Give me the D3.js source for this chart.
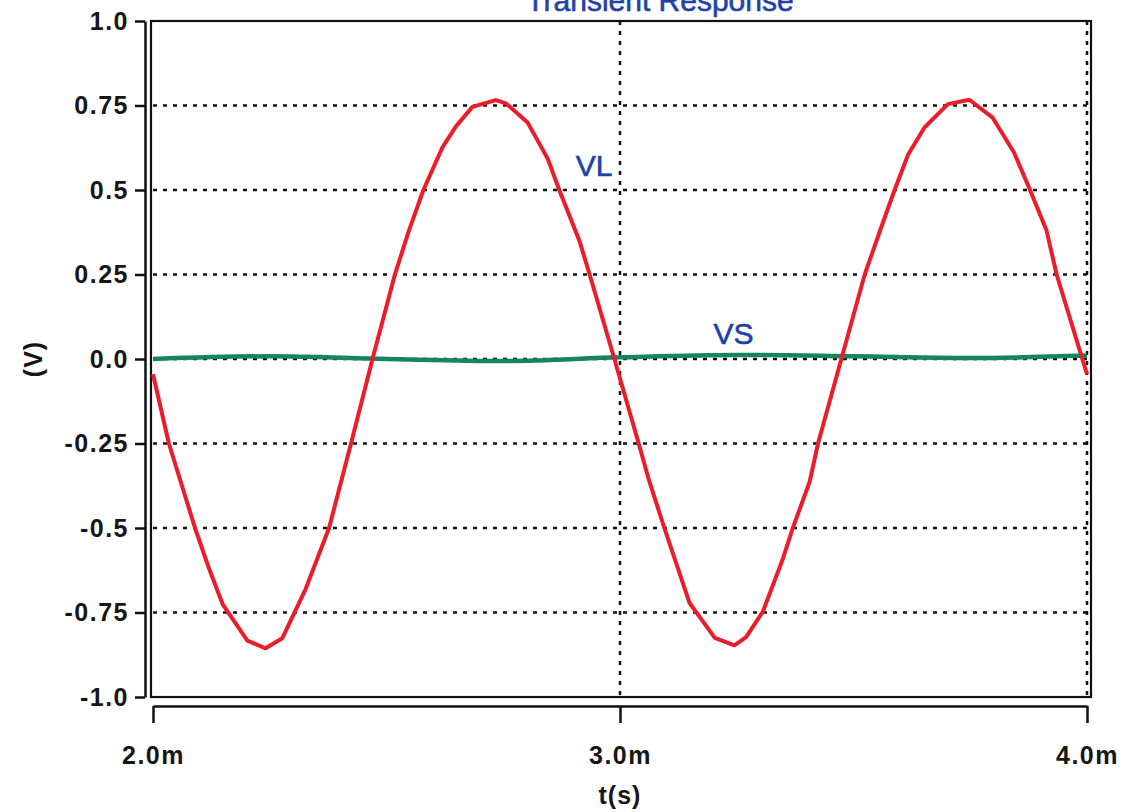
<!DOCTYPE html>
<html>
<head>
<meta charset="utf-8">
<script src="https://cdn.jsdelivr.net/npm/d3@7"></script>
<style>
  body { margin: 0; background: #fff; }
  svg { display: block; }
  .tick text { font-family: 'Liberation Sans', Arial, sans-serif; font-weight: bold; font-size: 25px; letter-spacing: 1.5px; fill: #161616; }
  .label { font-family: 'Liberation Sans', Arial, sans-serif; font-weight: bold; font-size: 25px; letter-spacing: 1px; fill: #161616; }
  .blue { font-family: 'Liberation Sans', Arial, sans-serif; font-size: 30px; fill: #1f42a8; stroke: #1f42a8; stroke-width: 0.6px; }
</style>
</head>
<body>
<svg width="1129" height="812"></svg>
<script>
// VL: [time in ms, volts]
const vlPoints = [
  [2.000, -0.045], [2.034, -0.25], [2.090, -0.50], [2.120, -0.62], [2.149, -0.725],
  [2.202, -0.833], [2.241, -0.856], [2.277, -0.826], [2.327, -0.68], [2.377, -0.50],
  [2.424, -0.25], [2.470, 0.0], [2.518, 0.25], [2.548, 0.38], [2.579, 0.50],
  [2.620, 0.627], [2.648, 0.687], [2.684, 0.746], [2.734, 0.766], [2.756, 0.756],
  [2.802, 0.70], [2.845, 0.593], [2.870, 0.50], [2.913, 0.35], [2.935, 0.25],
  [2.988, 0.0], [3.040, -0.25], [3.063, -0.363], [3.095, -0.50], [3.149, -0.722],
  [3.203, -0.825], [3.245, -0.847], [3.270, -0.823], [3.306, -0.747], [3.349, -0.59],
  [3.370, -0.50], [3.406, -0.364], [3.424, -0.25], [3.474, 0.0], [3.524, 0.25],
  [3.560, 0.392], [3.588, 0.50], [3.617, 0.605], [3.652, 0.685], [3.702, 0.754],
  [3.748, 0.767], [3.798, 0.714], [3.844, 0.61], [3.878, 0.50], [3.913, 0.382],
  [3.935, 0.25], [3.990, 0.0], [4.000, -0.045]
];

// VS is almost flat
const vsPoints = [
  [2.00, 0.0], [2.25, 0.008], [2.50, 0.0], [2.75, -0.006], [3.00, 0.005],
  [3.25, 0.012], [3.50, 0.008], [3.75, 0.003], [4.00, 0.01]
];

const yTicks = [1, 0.75, 0.5, 0.25, 0, -0.25, -0.5, -0.75, -1];
const yTickLabels = ['1.0', '0.75', '0.5', '0.25', '0.0', '-0.25', '-0.5', '-0.75', '-1.0'];
const gridY = [0.75, 0.5, 0.25, 0, -0.25, -0.5, -0.75];
const xTicks = [2, 3, 4];
const xTickLabels = ['2.0m', '3.0m', '4.0m'];
const gridX = [3, 4];

const svg = d3.select('svg');

const xScale = d3.scaleLinear().domain([2, 4]).range([153, 1087]);
const yScale = d3.scaleLinear().domain([-1, 1]).range([697, 21]);

// title (cut off by the top edge, like the scan)
svg.append('text')
  .attr('class', 'blue')
  .attr('x', 660)
  .attr('y', 11)
  .attr('text-anchor', 'middle')
  .text('Transient Response');

// dotted grid
svg.append('g')
  .selectAll('line')
  .data(gridY)
  .enter()
  .append('line')
  .attr('x1', xScale(2))
  .attr('x2', xScale(4) + 4)
  .attr('y1', d => yScale(d))
  .attr('y2', d => yScale(d))
  .attr('stroke', '#111')
  .attr('stroke-width', 2.5)
  .attr('stroke-dasharray', '4,6');

svg.append('g')
  .selectAll('line')
  .data(gridX)
  .enter()
  .append('line')
  .attr('x1', d => xScale(d))
  .attr('x2', d => xScale(d))
  .attr('y1', yScale(1))
  .attr('y2', yScale(-1))
  .attr('stroke', '#111')
  .attr('stroke-width', 2.5)
  .attr('stroke-dasharray', '4,6');

// plot frame
svg.append('rect')
  .attr('x', xScale(2) - 2)
  .attr('y', yScale(1))
  .attr('width', xScale(4) - xScale(2) + 6)
  .attr('height', yScale(-1) - yScale(1))
  .attr('fill', 'none')
  .attr('stroke', '#111')
  .attr('stroke-width', 2.2);

// y axis, drawn a bit left of the frame
const yAxis = svg.append('g')
  .attr('transform', 'translate(145,0)')
  .call(d3.axisLeft(yScale)
    .tickValues(yTicks)
    .tickFormat((d, i) => yTickLabels[i])
    .tickSize(10)
    .tickSizeOuter(0)
    .tickPadding(6));

// x axis, drawn a bit below the frame
const xAxis = svg.append('g')
  .attr('transform', 'translate(0,706)')
  .call(d3.axisBottom(xScale)
    .tickValues(xTicks)
    .tickFormat((d, i) => xTickLabels[i])
    .tickSize(17)
    .tickSizeOuter(0)
    .tickPadding(23));

[yAxis, xAxis].forEach(ax => {
  ax.select('.domain').attr('stroke', '#111').attr('stroke-width', 2.5);
  ax.selectAll('.tick line').attr('stroke', '#111').attr('stroke-width', 2.5);
  ax.selectAll('.tick text').attr('font-family', null).attr('font-size', null);
});

const line = d3.line()
  .x(d => xScale(d[0]))
  .y(d => yScale(d[1]));

svg.append('path')
  .datum(vsPoints)
  .attr('d', line.curve(d3.curveMonotoneX))
  .attr('fill', 'none')
  .attr('stroke', '#15855a')
  .attr('stroke-width', 4.5);

svg.append('path')
  .datum(vlPoints)
  .attr('d', d3.line().x(d => xScale(d[0])).y(d => yScale(d[1])))
  .attr('fill', 'none')
  .attr('stroke', '#ec1d2b')
  .attr('stroke-width', 4)
  .attr('stroke-linejoin', 'round');

// series names
svg.append('text')
  .attr('class', 'blue')
  .attr('x', xScale(2.905))
  .attr('y', yScale(0.5) - 14)
  .text('VL');

svg.append('text')
  .attr('class', 'blue')
  .attr('x', xScale(3.2))
  .attr('y', yScale(0) - 15)
  .text('VS');

// axis titles
svg.append('text')
  .attr('class', 'label')
  .attr('transform', `translate(42, ${yScale(0)}) rotate(-90)`)
  .attr('text-anchor', 'middle')
  .text('(V)');

svg.append('text')
  .attr('class', 'label')
  .attr('x', xScale(3))
  .attr('y', 804)
  .attr('text-anchor', 'middle')
  .text('t(s)');
</script>
</body>
</html>
